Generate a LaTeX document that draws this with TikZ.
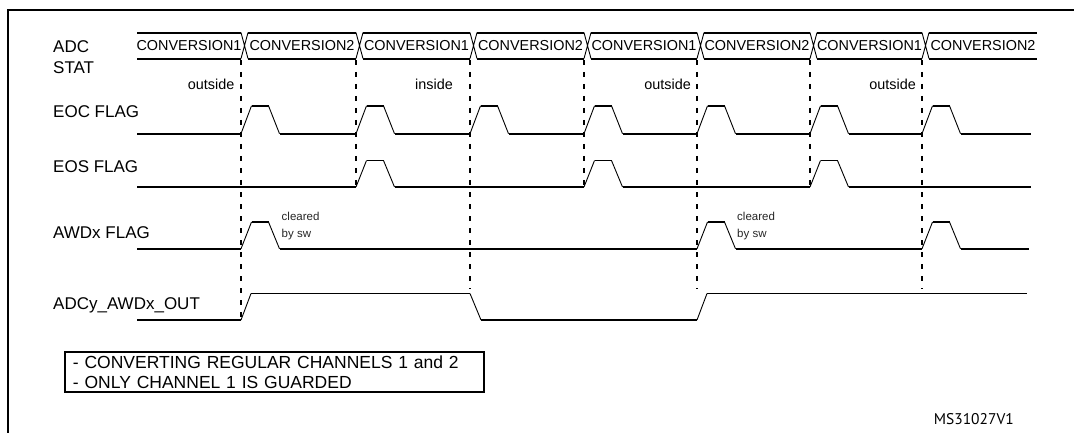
\documentclass[tikz,border=0pt]{standalone}
\usepackage{fontspec}
\setmainfont{Liberation Sans}
\newfontfamily\idfont{PT Sans}
\usetikzlibrary{positioning,calc}
\tikzset{sig/.style={line width=1.9pt}, slope/.style={line width=0.9pt}, bus/.style={line width=1.9pt}, xing/.style={line width=0.9pt}, guide/.style={line width=1.9pt,dash pattern=on 5pt off 7pt}, figframe/.style={line width=2pt}, lbl/.style={font=\fontsize{17}{20.5}\selectfont,inner sep=0pt,anchor=base west,align=left}, conv/.style={font=\fontsize{14.4}{16}\selectfont,inner sep=0pt,anchor=base}, zone/.style={conv,anchor=base east}, clr/.style={font=\fontsize{11.5}{17.5}\selectfont,inner sep=0pt,anchor=base west,align=left,text=black!85}, notebox/.style={draw,line width=1.9pt,font=\fontsize{17.5}{20.5}\selectfont,align=left,text width=403pt,inner xsep=8pt,inner ysep=3.5pt,anchor=north west}}
% flag waveform: low y, high y, pulse starts, end x
\newcommand\wave[4]{\gdef\xlast{137}%
  \foreach \xs in {#3}{\draw[sig] (\xlast,#1) -- (\xs,#1);
    \draw[slope] (\xs,#1) -- (\xs+10.5,#2) (\xs+27.5,#2) -- (\xs+38.5,#1);
    \draw[sig] (\xs+10.5,#2) -- (\xs+27.5,#2);
    \pgfmathsetmacro\xn{\xs+38.5}\xdef\xlast{\xn}}%
  \draw[sig] (\xlast,#1) -- (#4,#1);}

\begin{document}
\begin{tikzpicture}[x=1pt,y=-1pt]
\useasboundingbox (0,0) rectangle (1074,433);
\draw[figframe] (1074,9.6) -| (8,433);
\node[lbl] (adc) at (53,73.5) {ADC\\STAT};
\node[lbl] (eoc) at (53,118) {EOC FLAG};
\node[lbl] (eos) at (53,173) {EOS FLAG};
\node[lbl] (awd) at (53,238) {AWDx FLAG};
\node[lbl] (out) at (53,309.5) {ADCy\_AWDx\_OUT};
\foreach \a/\b [count=\k from 0] in {137/241,248/356,363/470,477/584,591/697,704/810,817/922,929/1037}{
  \draw[bus] (\a,32.6) -- (\b,32.6) (\a,58.6) -- (\b,58.6);
  \pgfmathtruncatemacro\n{mod(\k,2)+1}
  \node[conv] (c\k) at ({(\a+\b)/2},50.8) {CONVERSION\n};}
\foreach \x in {241,356,470,584,697,810,922} \draw[xing] (\x,32.6) -- (\x+7,58.6) (\x,58.6) -- (\x+7,32.6);
\foreach \x/\e in {241/320,356/187,470/289,584/187,697/289,810/187,922/289} \draw[guide] (\x,60) -- (\x,\e);
\node[zone] (z0) at (234.5,90) {outside};
\node[zone] (z1) at (453,90) {inside};
\node[zone] (z2) at (691,90) {outside};
\node[zone] (z3) at (916,90) {outside};
\wave{133.7}{105.8}{241,356,470,584,697,810,922}{1031}
\wave{187}{160.5}{356,584,810}{1031}
\wave{248.8}{222}{241,697,922}{1029}
\node[clr] (clr0) at (281.5,237.5) {cleared\\by sw};
\node[clr] (clr1) at (737,237.5) {cleared\\by sw};
\draw[sig] (137,320) -- (241,320) (251,293.5) -- (470,293.5) (481,320) -- (697,320) (707,293.5) -- (1027,293.5);
\draw[slope] (241,320) -- (251,293.5) (470,293.5) -- (481,320) (697,320) -- (707,293.5);
\node[notebox] (cond) at (64,351) {- CONVERTING REGULAR CHANNELS 1 and 2\\- ONLY CHANNEL 1 IS GUARDED};
\node[font=\idfont\fontsize{15.5}{18}\selectfont,inner sep=0pt,anchor=base east] (msid) at (1014,424) {MS31027V1};
\end{tikzpicture}
\end{document}
